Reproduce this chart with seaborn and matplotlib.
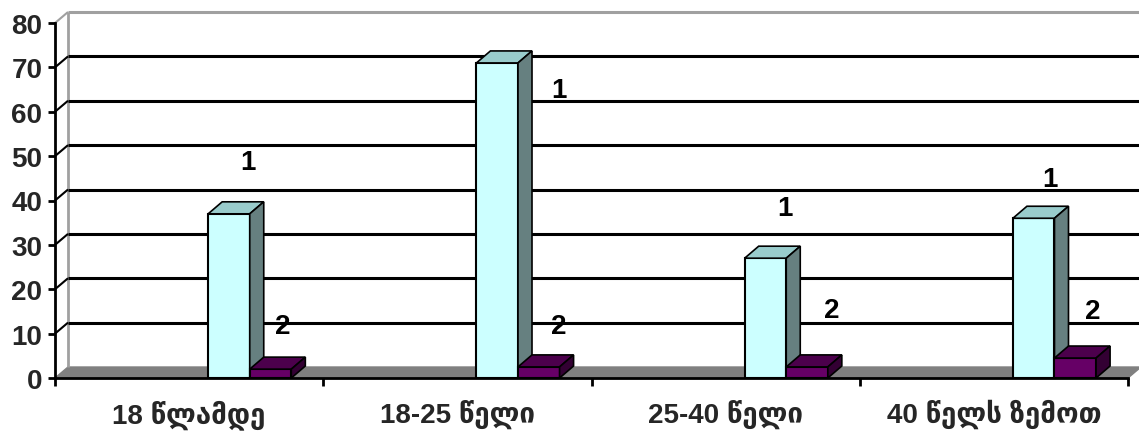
import matplotlib
matplotlib.use("Agg")
import matplotlib.pyplot as plt
import pandas as pd
import seaborn as sns
from matplotlib.patches import Polygon
from matplotlib.lines import Line2D
from matplotlib.transforms import IdentityTransform

# ---- data -------------------------------------------------------------
categories = ["18 წლამდე", "18-25 წელი", "25-40 წელი", "40 წელს ზემოთ"]
series_names = ["1", "2"]
series1 = [37, 71, 27, 36]
series2 = [2, 2.5, 2.5, 4.5]
y_ticks = [0, 10, 20, 30, 40, 50, 60, 70, 80]

# ---- style ------------------------------------------------------------
front_colors = ["#CCFFFF", "#660066"]
top_colors = ["#99CCCC", "#4C004C"]
side_colors = ["#668080", "#330033"]
WALL_DX, WALL_DY = 13, 11      # depth of the back wall, pixels
BAR_DX, BAR_DY = 14, 12        # depth of each column, pixels
FS = 20
# where each series-name label sits relative to its column top (pixels, y up)
label_offsets = [
    [(19, 52), (62, -27), (19, 50), (16, 39)],
    [(12, 43), (20, 41), (25, 57), (17, 47)],
]

sns.set_theme(style="white")
plt.rcParams["font.family"] = ["Liberation Sans", "DejaVu Sans"]
plt.rcParams["font.weight"] = "bold"

W, H, DPI = 1139, 435, 100
fig = plt.figure(figsize=(W / DPI, H / DPI), dpi=DPI)
fig.patch.set_facecolor("white")
ax = fig.add_axes([55 / W, 56 / H, 1073 / W, 355 / H])
ax.set_facecolor("none")

df = pd.DataFrame({
    "category": categories * 2,
    "series": [series_names[0]] * len(categories) + [series_names[1]] * len(categories),
    "value": series1 + series2,
})
sns.barplot(data=df, x="category", y="value", hue="series", hue_order=series_names,
            order=categories, palette=front_colors, saturation=1, width=0.31,
            dodge=True, edgecolor="black", linewidth=1.5, legend=False, ax=ax)

ax.set_xlim(-0.5, len(categories) - 0.5)
ax.set_ylim(0, 80)
ax.set_xlabel("")
ax.set_ylabel("")

# shift the column pairs to the right within each category slot
n = len(categories)
bars = list(ax.patches)[: 2 * n]
for p in bars:
    p.set_x(p.get_x() + 0.226)

to_px = ax.transData.transform
ident = IdentityTransform()


def add_poly(pts, fc, z, ec="black", lw=1.2):
    ax.add_patch(Polygon(pts, closed=True, facecolor=fc, edgecolor=ec, lw=lw,
                         transform=ident, clip_on=False, zorder=z,
                         joinstyle="miter"))


def add_line(xs, ys, color, lw, z):
    ax.add_line(Line2D(xs, ys, color=color, lw=lw, transform=ident,
                       clip_on=False, zorder=z, solid_capstyle="butt"))


x0, y0 = to_px((-0.5, 0))
x1, _ = to_px((n - 0.5, 0))
_, ytop = to_px((0, 80))

# floor
add_poly([(x0, y0), (x1, y0), (x1 + WALL_DX, y0 + WALL_DY), (x0 + WALL_DX, y0 + WALL_DY)],
         "#808080", 0.3, ec="#808080", lw=1)

# back-wall gridlines and left-wall diagonals
for v in y_ticks[1:]:
    _, yv = to_px((0, v))
    col = "#A0A0A0" if v == 80 else "black"
    add_line([x0 + WALL_DX, x1 + WALL_DX + 5], [yv + WALL_DY, yv + WALL_DY], col, 2.2, 0.4)
    add_line([x0, x0 + WALL_DX], [yv, yv + WALL_DY], col, 1.5, 0.4)
add_line([x0 + WALL_DX, x0 + WALL_DX], [y0 + WALL_DY, ytop + WALL_DY], "#A0A0A0", 2.0, 0.35)

# columns: front face from seaborn, then top and side faces
for s in range(2):
    for c in range(n):
        p = bars[s * n + c]
        p.set_zorder(2 + s)
        bx, by = p.get_x(), p.get_height()
        bw = p.get_width()
        lx, ly = to_px((bx, 0))
        rx, ry = to_px((bx + bw, by))
        add_poly([(lx, ry), (rx, ry), (rx + BAR_DX, ry + BAR_DY), (lx + BAR_DX, ry + BAR_DY)],
                 top_colors[s], 2.1 + s)
        add_poly([(rx, ly), (rx, ry), (rx + BAR_DX, ry + BAR_DY), (rx + BAR_DX, ly + BAR_DY)],
                 side_colors[s], 2.1 + s)
        ox, oy = label_offsets[s][c]
        ax.annotate(series_names[s], xy=(bx + bw / 2, by), xytext=(ox * 0.72, oy * 0.72),
                    textcoords="offset points", ha="center", va="center",
                    fontsize=FS, fontweight="bold", color="black", zorder=5,
                    annotation_clip=False)

# axes, ticks and labels
for side in ["top", "right"]:
    ax.spines[side].set_visible(False)
for side in ["left", "bottom"]:
    ax.spines[side].set_color("black")
    ax.spines[side].set_linewidth(2)
    ax.spines[side].set_zorder(4)

ax.set_yticks(y_ticks)
ax.set_yticklabels([str(v) for v in y_ticks], fontsize=FS, fontweight="bold")
ax.tick_params(axis="y", direction="out", length=5, width=2, color="black", pad=4, left=True)
ax.set_xticks(range(n))
ax.set_xticklabels(categories, fontsize=FS, fontweight="bold")
ax.set_xticks([i - 0.5 for i in range(n + 1)], minor=True)
ax.tick_params(axis="x", which="major", length=0, pad=15)
ax.tick_params(axis="x", which="minor", direction="out", length=6, width=2,
               color="black", bottom=True)
ax.grid(False)

fig.savefig("out.png", dpi=DPI, facecolor="white")
